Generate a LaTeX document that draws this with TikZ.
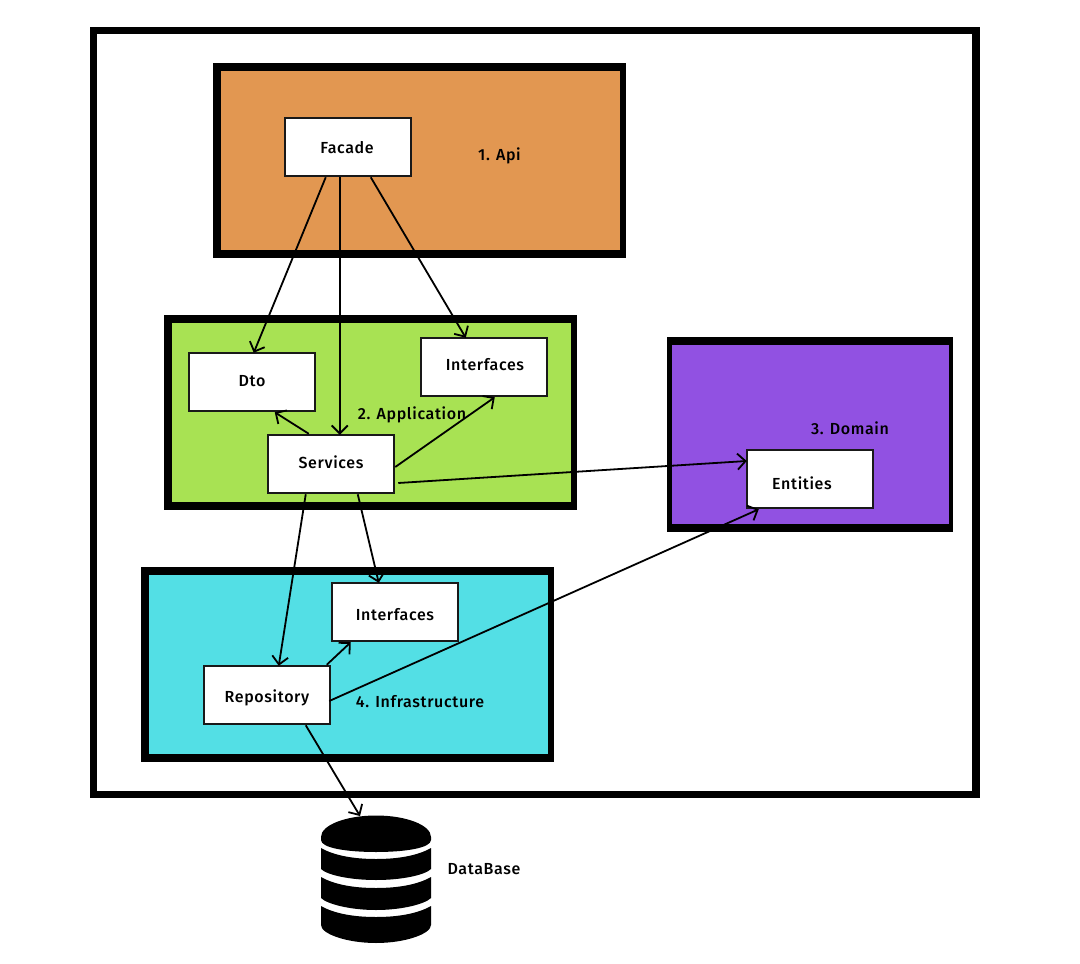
\documentclass[tikz,border=0pt]{standalone}
\usepackage{fontspec}
\setmainfont{Fira Sans Medium}[LetterSpace=4]
\usetikzlibrary{arrows.meta,calc}
\definecolor{apic}{HTML}{E29751}
\definecolor{appc}{HTML}{A8E253}
\definecolor{domc}{HTML}{9151E2}
\definecolor{infc}{HTML}{53DFE5}
\newcommand\tx[2]{\raisebox{\dimexpr-5.5pt+#1\relax}[6pt][6pt]{#2}}
\tikzset{
 x=1pt,y=-1pt,
 wbox/.style={draw=black!90,line width=2.5pt,fill=white,minimum width=126pt,minimum height=58pt,inner sep=0pt,font=\fontsize{16}{18}\selectfont},
 lab/.style={inner sep=0pt,font=\fontsize{16}{18}\selectfont,text=black},
 conn/.style={draw=black,line width=1.8pt,-{Straight Barb[length=8pt,width=16pt,line width=1.8pt]}},
}
\begin{document}
\begin{tikzpicture}
\useasboundingbox (0,0) rectangle (1080,964);
\fill[white] (0,0) rectangle (1080,964);
\fill[black] (90,27) rectangle (980,798);
\fill[white] (97,34) rectangle (972,791);
\fill[black] (213,63) rectangle (626,258);
\fill[apic] (221,71) rectangle (620,250);
\fill[black] (164,315) rectangle (577,510);
\fill[appc] (172,323) rectangle (571,502);
\fill[black] (667,337) rectangle (953,532);
\fill[domc] (672,345) rectangle (949,524);
\fill[black] (141,567) rectangle (554,762);
\fill[infc] (149,575) rectangle (548,754);
\node[wbox] (facade) at (348,147) {\hspace*{-2pt}\tx{-1pt}{Facade}};
\node[wbox] (dto) at (252,382) {\tx{1pt}{Dto}};
\node[wbox] (appif) at (484,367) {\hspace*{2pt}\tx{2pt}{Interfaces}};
\node[wbox] (services) at (331,464) {\tx{1pt}{Services}};
\node[wbox] (entities) at (810,479) {\hspace*{-16pt}\tx{-5pt}{Entities}};
\node[wbox] (infif) at (395,612) {\tx{-3pt}{Interfaces}};
\node[wbox] (repo) at (267,695) {\tx{-2pt}{Repository}};
\node[lab] (l1) at (499.5,156) {1. Api};
\node[lab] (l2) at (412,415) {2. Application};
\node[lab] (l3) at (850,428) {3. Domain};
\node[lab] (l4) at (420,702) {4. Infrastructure};
\node[lab] (l5) at (484,869) {DataBase};
% database
\coordinate (db) at (376,816);
\fill[black] (321,837) arc[start angle=180,end angle=0,x radius=55,y radius=-21.5] -- (431,840) .. controls (431,848) and (405,852) .. (376,852) .. controls (347,852) and (321,848) .. (321,840) -- cycle;
\fill[black] (321,848) .. controls (335,856) and (355,859) .. (376,859) .. controls (397,859) and (417,856) .. (431,848) -- (431,869) .. controls (425,875) and (402,880) .. (376,880) .. controls (350,880) and (327,875) .. (321,869) -- cycle;
\fill[black] (321,877) .. controls (335,885) and (355,888) .. (376,888) .. controls (397,888) and (417,885) .. (431,877) -- (431,898) .. controls (425,904) and (402,910) .. (376,910) .. controls (350,910) and (327,904) .. (321,898) -- cycle;
\fill[black] (321,906) .. controls (335,914) and (355,917) .. (376,917) .. controls (397,917) and (417,914) .. (431,906) -- (431,925) .. controls (431,934) and (405,943) .. (376,943) .. controls (347,943) and (321,934) .. (321,925) -- cycle;
\draw[conn] ([xshift=42pt]facade.south west) -- ([xshift=66pt,yshift=-1pt]dto.north west);
\draw[conn] ([xshift=56pt]facade.south west) -- ([xshift=73pt,yshift=-1pt]services.north west);
\draw[conn] ([xshift=87pt]facade.south west) -- ([xshift=46pt,yshift=-1pt]appif.north west);
\draw[conn] ([xshift=42pt]services.north west) -- ([xshift=87pt]dto.south west);
\draw[conn] ([yshift=-3pt]services.east) -- ([xshift=75pt]appif.south west);
\draw[conn] ([xshift=3pt,yshift=-19pt]services.east) -- ([xshift=1pt,yshift=18pt]entities.west);
\draw[conn] ([xshift=39pt]services.south west) -- ([xshift=76pt,yshift=-1pt]repo.north west);
\draw[conn] ([xshift=91pt]services.south west) -- ([xshift=48pt,yshift=-1pt]infif.north west);
\draw[conn] ([xshift=124pt]repo.north west) -- ([xshift=20pt]infif.south west);
\draw[conn] ([yshift=-6pt,xshift=-2pt]repo.east) -- ([xshift=13pt]entities.south west);
\draw[conn] ([xshift=103pt]repo.south west) -- ([xshift=-16pt]db);
\end{tikzpicture}
\end{document}
